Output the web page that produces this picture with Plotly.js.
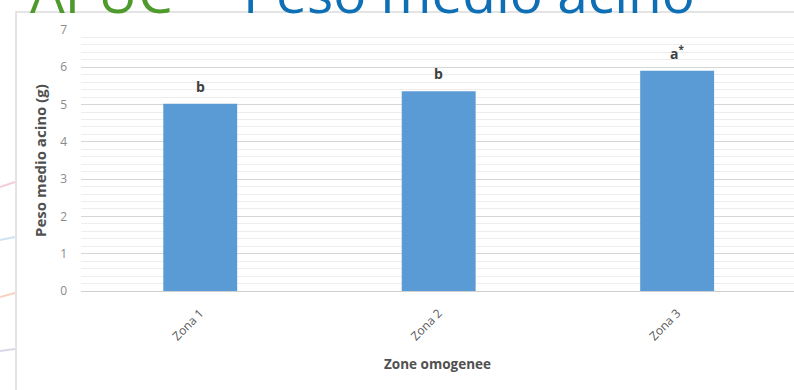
<!DOCTYPE html>
<html>
<head>
<meta charset="utf-8">
<script src="https://cdn.plot.ly/plotly-3.0.1.min.js"></script>
<style>
  html, body { margin: 0; padding: 0; background: #ffffff; }
  #chart { width: 794px; height: 390px; }
</style>
</head>
<body>
<div id="chart"></div>
<script>
// Peso medio acino per zona omogenea
const zone = ['Zona 1', 'Zona 2', 'Zona 3'];
const pesoMedio = [5.02, 5.36, 5.91];
const lettere = ['b', 'b', 'a<sup>*</sup>'];
const yTicks = [0, 1, 2, 3, 4, 5, 6, 7];

// plot area in pixels: left 81, top 30, width 713, height 261
const L = 81, T = 30, W = 713, H = 261;
const px = v => (v - L) / W;
const py = v => (T + H - v) / H;

const trace = {
  type: 'bar',
  x: zone,
  y: pesoMedio,
  marker: { color: '#5b9bd5' },
  hoverinfo: 'x+y'
};

const labelFont = { family: 'Open Sans, sans-serif', size: 14, color: '#404040' };

const annotations = zone.map((z, i) => ({
  x: z, y: pesoMedio[i], xref: 'x', yref: 'y',
  text: '<b>' + lettere[i] + '</b>',
  showarrow: false, yanchor: 'bottom', yshift: 6,
  font: labelFont
}));

// slide heading, partly above the visible area
annotations.push({
  xref: 'paper', yref: 'paper',
  x: px(28), y: py(31), xanchor: 'left', yanchor: 'bottom',
  showarrow: false,
  text: '<span style="color:#4f9a2d">APUC</span>  – Peso medio acino',
  font: { family: 'Open Sans, sans-serif', size: 55, color: '#0e6fb5' }
});

// chart panel frame and slide background streaks
const shapes = [
  { type: 'rect', xref: 'paper', yref: 'paper', layer: 'below',
    x0: px(16), x1: px(820), y0: py(420), y1: py(12),
    line: { color: '#dcdcdc', width: 1.5 }, fillcolor: 'rgba(0,0,0,0)' },
  { type: 'line', xref: 'paper', yref: 'paper', x0: px(0), x1: px(15), y0: py(187), y1: py(182),
    line: { color: '#f4cdd8', width: 2 } },
  { type: 'line', xref: 'paper', yref: 'paper', x0: px(0), x1: px(15), y0: py(240), y1: py(237),
    line: { color: '#cfe3f4', width: 2 } },
  { type: 'line', xref: 'paper', yref: 'paper', x0: px(0), x1: px(15), y0: py(297), y1: py(293),
    line: { color: '#f6d2c4', width: 2 } },
  { type: 'line', xref: 'paper', yref: 'paper', x0: px(0), x1: px(15), y0: py(351), y1: py(349),
    line: { color: '#dcd6ea', width: 2 } }
];

const layout = {
  width: 794, height: 390,
  margin: { l: L, r: 0, t: T, b: 390 - T - H, pad: 0 },
  paper_bgcolor: '#ffffff',
  plot_bgcolor: '#ffffff',
  showlegend: false,
  bargap: 0.69,
  font: { family: 'Open Sans, sans-serif', color: '#595959' },
  xaxis: {
    type: 'category',
    range: [-0.5, 2.49],
    tickangle: -45,
    ticks: '',
    ticklabelstandoff: 12,
    tickfont: { size: 12, color: '#595959' },
    showgrid: false,
    showline: false,
    zeroline: false,
    title: { text: '<b>Zone omogenee</b>', font: { size: 13.5, color: '#505050' }, standoff: 16 }
  },
  yaxis: {
    range: [0, 7],
    tickvals: yTicks,
    ticktext: yTicks.map(String),
    ticks: '',
    ticklabelstandoff: 13,
    tickfont: { size: 12, color: '#8a8a8a' },
    showgrid: true,
    gridcolor: '#d6d6d6',
    gridwidth: 1,
    minor: { dtick: 0.2, showgrid: true, gridcolor: '#ededed', gridwidth: 1 },
    zeroline: true,
    zerolinecolor: '#d0d0d0',
    zerolinewidth: 1,
    title: { text: '<b>Peso medio acino (g)</b>', font: { size: 15, color: '#505050' }, standoff: 9 }
  },
  annotations: annotations,
  shapes: shapes
};

Plotly.newPlot('chart', [trace], layout, { displayModeBar: false, staticPlot: true });
</script>
</body>
</html>
